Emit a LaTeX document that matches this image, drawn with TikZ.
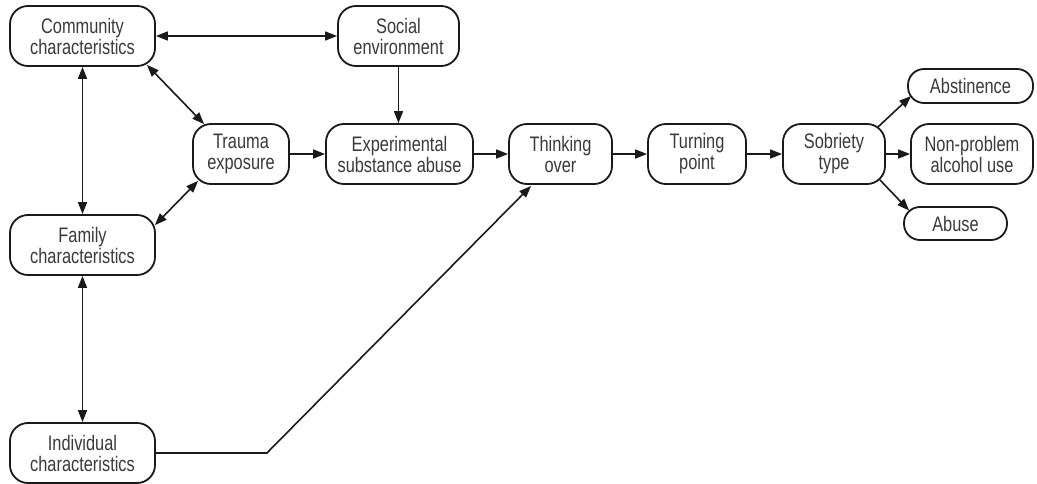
\documentclass[tikz,border=0pt]{standalone}
\usepackage{fontspec}
\setmainfont{Liberation Sans}[FakeStretch=0.78]
\usetikzlibrary{arrows.meta,calc}
\definecolor{linec}{HTML}{1A1A1A}
\definecolor{textc}{HTML}{3A3A3A}
\tikzset{
  box/.style={draw=linec, line width=1.8pt, rounded corners=18pt, align=center,
    inner sep=0pt, text=textc, font=\fontsize{21}{21}\selectfont, minimum height=60pt},
  pill/.style={box, rounded corners=16pt, minimum height=33pt},
  arr/.style={draw=linec, line width=1.6pt, -{Triangle[length=12pt,width=9pt]}},
  biarr/.style={draw=linec, line width=1.6pt, {Triangle[length=12pt,width=9pt]}-{Triangle[length=12pt,width=9pt]}}
}
\begin{document}
\begin{tikzpicture}[x=1pt,y=-1pt]
\useasboundingbox[fill=white] (0,0) rectangle (1037,484);
\node[box, minimum width=145pt] (comm) at (82.5,36) {Community\\characteristics};
\node[box, minimum width=121pt] (social) at (398.5,36) {Social\\environment};
\node[box, minimum width=96pt] (trauma) at (241,154) {Trauma\\exposure};
\node[box, minimum width=147pt] (exp) at (399.5,154) {Experimental\\substance abuse};
\node[box, minimum width=103pt] (think) at (560.5,154) {Thinking\\over};
\node[box, minimum width=98pt] (turn) at (697,154) {Turning\\point};
\node[box, minimum width=102pt] (sob) at (834,154) {Sobriety\\type};
\node[pill, minimum width=125pt, minimum height=34pt] (abst) at (970.5,86) {Abstinence};
\node[box, minimum width=122pt] (nonp) at (972,154) {Non-problem\\alcohol use};
\node[pill, minimum width=103pt] (abuse) at (955.5,223.5) {Abuse};
\node[box, minimum width=145pt] (fam) at (82.5,245) {Family\\characteristics};
\node[box, minimum width=145pt] (ind) at (82.5,453) {Individual\\characteristics};

\draw[biarr] (comm.east) -- (social.west);
\draw[arr] (social.south) -- (social.south |- exp.north);
\draw[biarr] (comm.south) -- (fam.north);
\draw[biarr] (fam.south) -- (ind.north);
\draw[biarr] ($(comm.south east)+(-9,-2)$) -- ($(trauma.north west)+(12,1)$);
\draw[biarr] ($(fam.north east)+(-1,11)$) -- ($(trauma.south west)+(6,-4)$);
\draw[arr] (trauma.east) -- (exp.west);
\draw[arr] (exp.east) -- (think.west);
\draw[arr] (think.east) -- (turn.west);
\draw[arr] (turn.east) -- (sob.west);
\draw[arr] ($(sob.north east)+(-8,4)$) -- ($(abst.west)+(4,10)$);
\draw[arr] (sob.east) -- (nonp.west);
\draw[arr] ($(sob.south east)+(-6,-5)$) -- ($(abuse.west)+(6,-13)$);
\coordinate (bend) at ($(ind.east)+(111,0)$);
\draw[arr] (ind.east) -- (bend) -- ($(think.south west)+(23,1)$);
\end{tikzpicture}
\end{document}
